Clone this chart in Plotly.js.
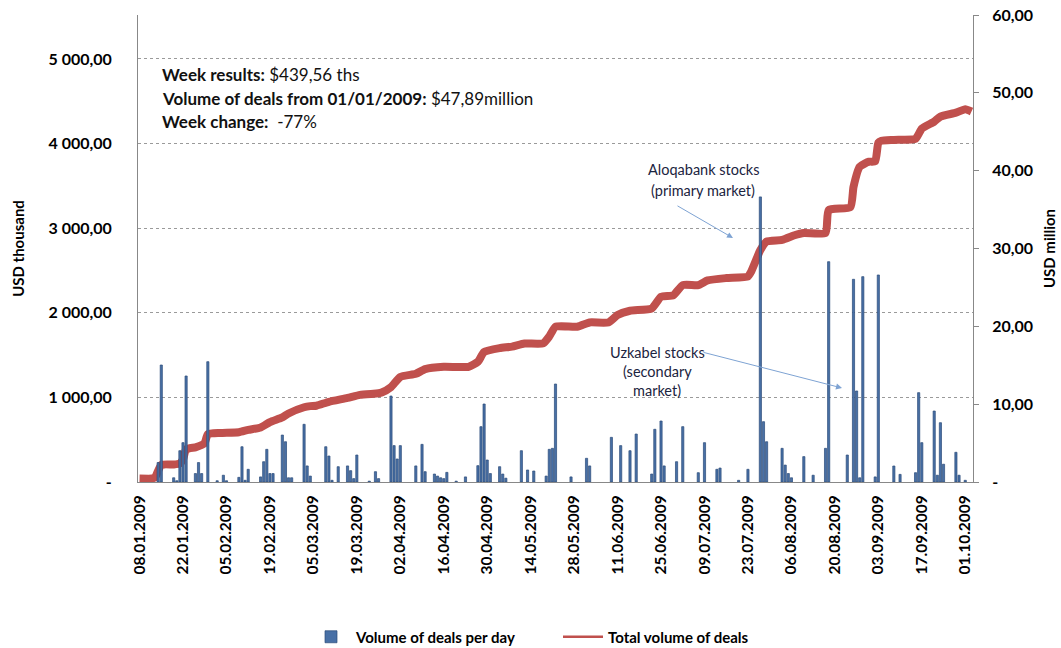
<!DOCTYPE html>
<html><head><meta charset="utf-8">
<script src="https://cdn.plot.ly/plotly-3.0.1.min.js"></script>
<style>html,body{margin:0;padding:0;background:#fff}#chart{width:1061px;height:648px}</style>
</head><body><div id="chart"></div>
<script>
// Daily volume of deals, USD thousand
const barDates = ['2009-01-14','2009-01-15','2009-01-19','2009-01-20','2009-01-21','2009-01-22','2009-01-23','2009-01-26','2009-01-27','2009-01-28','2009-01-30',
'2009-02-02','2009-02-04','2009-02-05','2009-02-09','2009-02-10','2009-02-11','2009-02-12','2009-02-16','2009-02-17','2009-02-18','2009-02-19','2009-02-20','2009-02-23','2009-02-24','2009-02-25','2009-02-26',
'2009-03-02','2009-03-03','2009-03-04','2009-03-09','2009-03-10','2009-03-11','2009-03-13','2009-03-16','2009-03-17','2009-03-18','2009-03-19','2009-03-23','2009-03-25','2009-03-26','2009-03-30','2009-03-31',
'2009-04-01','2009-04-02','2009-04-07','2009-04-09','2009-04-10','2009-04-13','2009-04-14','2009-04-15','2009-04-16','2009-04-17','2009-04-20','2009-04-23','2009-04-27','2009-04-28','2009-04-29','2009-04-30',
'2009-05-01','2009-05-04','2009-05-05','2009-05-06','2009-05-11','2009-05-13','2009-05-15','2009-05-19','2009-05-20','2009-05-21','2009-05-22','2009-05-27',
'2009-06-01','2009-06-02','2009-06-09','2009-06-12','2009-06-15','2009-06-17','2009-06-22','2009-06-23','2009-06-25','2009-06-26','2009-06-30',
'2009-07-02','2009-07-07','2009-07-09','2009-07-13','2009-07-14','2009-07-20','2009-07-23','2009-07-27','2009-07-28','2009-07-29',
'2009-08-03','2009-08-04','2009-08-05','2009-08-06','2009-08-10','2009-08-13','2009-08-17','2009-08-18','2009-08-24','2009-08-26','2009-08-27','2009-08-28','2009-08-29',
'2009-09-02','2009-09-03','2009-09-08','2009-09-10','2009-09-15','2009-09-16','2009-09-17','2009-09-21','2009-09-22','2009-09-23','2009-09-24','2009-09-28','2009-09-29','2009-10-01'];
const barValues = [230,1383,50,15,370,465,1253,100,230,100,1422,
15,80,15,55,417,20,150,60,240,386,100,100,555,476,50,50,
682,190,70,417,307,20,181,190,134,40,319,10,122,40,1016,430,
272,430,190,445,122,94,70,50,40,114,10,60,193,654,922,260,
100,181,94,45,370,142,130,70,386,398,1158,60,
280,190,528,430,370,567,94,623,721,190,240,
654,110,465,150,165,20,150,3370,713,476,
398,200,100,50,300,80,398,2604,319,2396,1076,50,2427,
60,2447,189,90,110,1056,465,839,80,701,210,351,80,20];

// Total (cumulative) volume of deals, USD million
const totalDates = ['2009-01-08','2009-01-12','2009-01-13','2009-01-15','2009-01-19','2009-01-21','2009-01-22','2009-01-23','2009-01-26','2009-01-28','2009-01-29','2009-01-30',
'2009-02-03','2009-02-09','2009-02-12','2009-02-16','2009-02-19','2009-02-23','2009-02-25','2009-03-02','2009-03-04','2009-03-06','2009-03-10','2009-03-16','2009-03-20','2009-03-26','2009-03-27','2009-03-30',
'2009-04-02','2009-04-07','2009-04-10','2009-04-16','2009-04-24','2009-04-27','2009-04-29','2009-05-04','2009-05-08','2009-05-12','2009-05-18','2009-05-20','2009-05-22','2009-05-29',
'2009-06-02','2009-06-08','2009-06-11','2009-06-15','2009-06-22','2009-06-25','2009-06-29','2009-07-02','2009-07-07','2009-07-10','2009-07-16','2009-07-23','2009-07-24','2009-07-27','2009-07-29',
'2009-08-03','2009-08-07','2009-08-10','2009-08-17','2009-08-18','2009-08-25','2009-08-26','2009-08-28','2009-08-31','2009-09-02','2009-09-03','2009-09-04','2009-09-08','2009-09-15','2009-09-17','2009-09-21','2009-09-23','2009-09-28','2009-10-01','2009-10-03'];
const totalValues = [0.45,0.45,0.6,2.2,2.25,2.4,2.9,4.2,4.45,4.75,5.0,6.15,
6.3,6.4,6.7,7.0,7.7,8.3,8.8,9.6,9.75,9.8,10.3,10.8,11.2,11.4,11.5,12.2,
13.5,13.9,14.5,14.8,14.8,15.45,16.7,17.2,17.4,17.8,17.8,18.7,19.95,19.95,
20.5,20.5,21.45,22.0,22.3,23.8,24.0,25.3,25.3,25.9,26.2,26.4,27.0,29.8,30.9,
31.1,31.7,32.0,32.0,34.95,35.3,37.9,40.5,41.15,41.2,43.6,43.85,43.95,44.1,45.4,46.3,46.95,47.45,47.9,47.6];

const leftTickVals = [0,1000,2000,3000,4000,5000];
const leftTickText = ['-','1 000,00','2 000,00','3 000,00','4 000,00','5 000,00'];
const rightTickVals = [0,10,20,30,40,50,60];
const rightTickText = ['-','10,00','20,00','30,00','40,00','50,00','60,00'];

const FONT = 'Lato, "Open Sans", sans-serif';
const DAY = 86400000;
const RED = '#C0504D';

// pixel helpers for annotation placement (plot area: x 138..973, y 15..482)
const px = x => (x - 138) / 835;
const py = y => (482 - y) / 467;

const traces = [
  {
    type: 'bar', name: 'Volume of deals per day',
    x: barDates, y: barValues, yaxis: 'y2',
    width: 0.7 * DAY,
    marker: {color: '#4870a6', line: {color: '#2b4a78', width: 0.7}}
  },
  {
    type: 'scatter', mode: 'lines', name: 'Total volume of deals', showlegend: false,
    x: totalDates, y: totalValues, yaxis: 'y',
    line: {color: RED, width: 8, shape: 'spline', smoothing: 0.5}
  },
  // legend entry only (thin line symbol as in the original legend)
  {
    type: 'scatter', mode: 'lines', name: 'Total volume of deals',
    x: [null], y: [null], yaxis: 'y', hoverinfo: 'skip',
    line: {color: RED, width: 2.5}
  }
];

const layout = {
  width: 1061, height: 648,
  margin: {l: 138, r: 88, t: 15, b: 166},
  paper_bgcolor: '#fff', plot_bgcolor: '#fff',
  font: {family: FONT, size: 12, color: '#000'},
  showlegend: true,
  legend: {orientation: 'h', x: 306/1061, xref: 'container', xanchor: 'left', y: 1 - 637/648, yref: 'container', yanchor: 'middle',
           font: {family: FONT, size: 15, color: '#000', weight: 'bold'}, traceorder: 'normal',
           itemwidth: 40, entrywidth: 197, entrywidthmode: 'pixels'},
  bargap: 0,
  xaxis: {
    type: 'date', range: ['2009-01-07 12:00', '2009-10-03 12:00'], automargin: false,
    tickmode: 'linear', tick0: '2009-01-08', dtick: 14 * DAY,
    tickformat: '%d.%m.%Y', tickangle: -90,
    tickfont: {family: FONT, size: 15.5, color: '#000', weight: 'bold'},
    showgrid: false, showline: true, linecolor: '#888', linewidth: 1,
    ticks: '', zeroline: false, ticklabelstandoff: 6
  },
  yaxis: {
    side: 'right', range: [0, 60], automargin: false,
    tickvals: rightTickVals, ticktext: rightTickText,
    tickfont: {family: FONT, size: 16, color: '#000', weight: 'bold'},
    showgrid: false, zeroline: false, showline: true, linecolor: '#888', linewidth: 1,
    ticks: 'outside', ticklen: 5, tickcolor: '#888', ticklabelstandoff: 10,
    title: {text: 'USD million', font: {family: FONT, size: 15, color: '#000', weight: 'bold'}, standoff: 12}
  },
  yaxis2: {
    overlaying: 'y', side: 'left', range: [0, 5520], automargin: false,
    tickvals: leftTickVals, ticktext: leftTickText,
    tickfont: {family: FONT, size: 16, color: '#000', weight: 'bold'},
    showgrid: true, gridcolor: '#9a9a9a', griddash: 'dot', gridwidth: 1,
    zeroline: false, showline: true, linecolor: '#888', linewidth: 1, ticks: '',
    ticklabelstandoff: 22,
    title: {text: 'USD thousand', font: {family: FONT, size: 15, color: '#000', weight: 'bold'}, standoff: 20}
  },
  annotations: [
    {xref: 'paper', yref: 'paper', x: px(160), y: py(75), xanchor: 'left', yanchor: 'middle', showarrow: false, align: 'left',
     text: '<b>Week results:</b> $439,56 ths', font: {family: FONT, size: 17, color: '#111'}},
    {xref: 'paper', yref: 'paper', x: px(160), y: py(98), xanchor: 'left', yanchor: 'middle', showarrow: false, align: 'left',
     text: '<b>Volume of deals from 01/01/2009:</b> $47,89million', font: {family: FONT, size: 17, color: '#111'}},
    {xref: 'paper', yref: 'paper', x: px(160), y: py(121), xanchor: 'left', yanchor: 'middle', showarrow: false, align: 'left',
     text: '<b>Week change:</b>  -77%', font: {family: FONT, size: 17, color: '#111'}},
    {xref: 'paper', yref: 'paper', x: px(703), y: py(170), xanchor: 'center', yanchor: 'middle', showarrow: false,
     text: 'Aloqabank stocks', font: {family: FONT, size: 14.5, color: '#1b2440'}},
    {xref: 'paper', yref: 'paper', x: px(703), y: py(190), xanchor: 'center', yanchor: 'middle', showarrow: false,
     text: '(primary market)', font: {family: FONT, size: 14.5, color: '#1b2440'}},
    {xref: 'paper', yref: 'paper', x: px(657), y: py(352), xanchor: 'center', yanchor: 'middle', showarrow: false,
     text: 'Uzkabel stocks', font: {family: FONT, size: 14.5, color: '#1b2440'}},
    {xref: 'paper', yref: 'paper', x: px(657), y: py(371), xanchor: 'center', yanchor: 'middle', showarrow: false,
     text: '(secondary', font: {family: FONT, size: 14.5, color: '#1b2440'}},
    {xref: 'paper', yref: 'paper', x: px(657), y: py(390), xanchor: 'center', yanchor: 'middle', showarrow: false,
     text: 'market)', font: {family: FONT, size: 14.5, color: '#1b2440'}},
    {xref: 'paper', yref: 'paper', x: px(733), y: py(238), ax: -57, ay: -33, text: '', showarrow: true,
     arrowhead: 2, arrowsize: 1.2, arrowwidth: 1, arrowcolor: '#7ea3d3'},
    {xref: 'paper', yref: 'paper', x: px(842), y: py(388), ax: -140, ay: -36, text: '', showarrow: true,
     arrowhead: 2, arrowsize: 1.2, arrowwidth: 1, arrowcolor: '#7ea3d3'}
  ]
};

Plotly.newPlot('chart', traces, layout, {displayModeBar: false, staticPlot: true});
</script>
</body></html>
